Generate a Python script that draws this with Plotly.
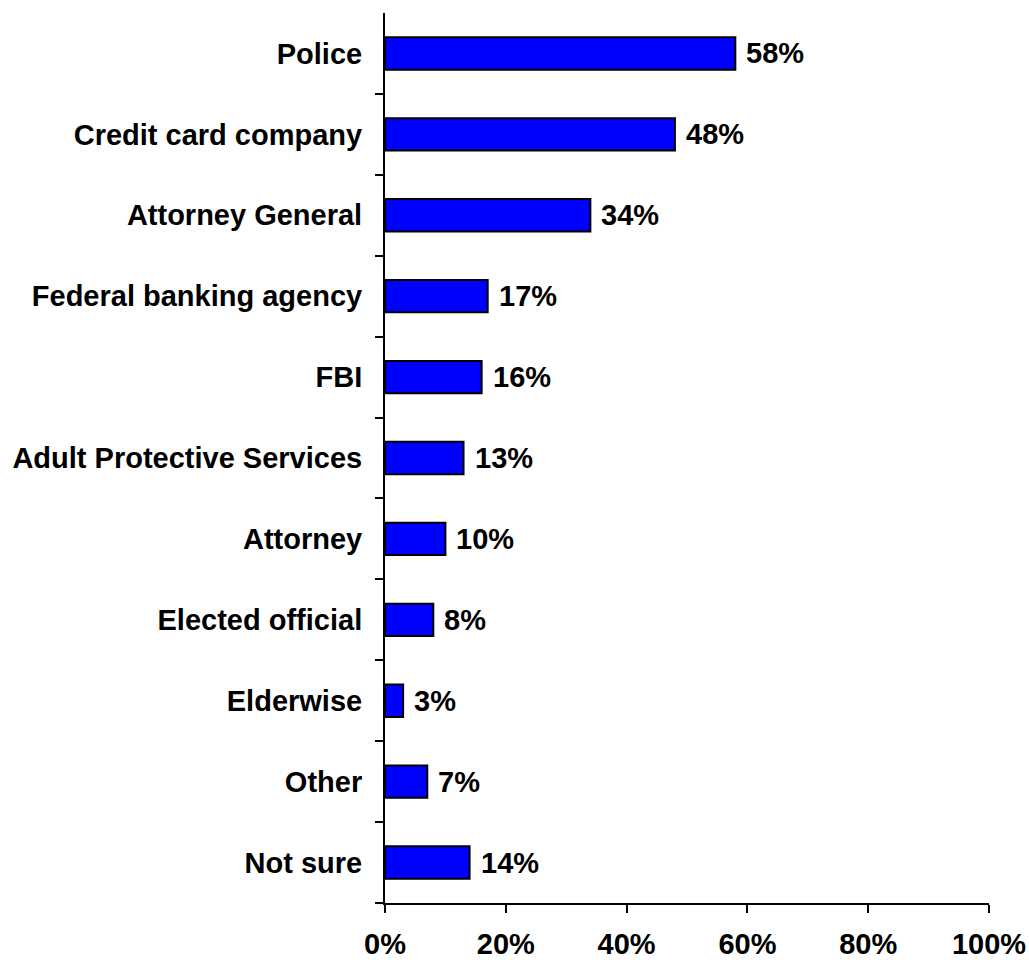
import plotly.graph_objects as go

categories = [
    "Police",
    "Credit card company",
    "Attorney General",
    "Federal banking agency",
    "FBI",
    "Adult Protective Services",
    "Attorney",
    "Elected official",
    "Elderwise",
    "Other",
    "Not sure",
]
values = [58, 48, 34, 17, 16, 13, 10, 8, 3, 7, 14]
x_ticks = [0, 20, 40, 60, 80, 100]
x_tick_labels = ["0%", "20%", "40%", "60%", "80%", "100%"]

FONT = dict(family="Liberation Sans, Arial, sans-serif", size=29, color="black")

fig = go.Figure(
    go.Bar(
        x=values,
        y=categories,
        orientation="h",
        width=0.4,
        marker=dict(color="#0000FF", line=dict(color="black", width=2)),
        hoverinfo="skip",
    )
)

# value labels just past the end of each bar
for cat, val in zip(categories, values):
    fig.add_annotation(
        x=val, y=cat, text=f"<b>{val}%</b>", showarrow=False,
        xanchor="left", yanchor="middle", xshift=9, font=FONT,
    )

fig.update_layout(
    width=1029, height=960,
    margin=dict(l=385, r=40, t=13, b=57),
    plot_bgcolor="white", paper_bgcolor="white",
    showlegend=False,
    font=FONT,
)

fig.update_xaxes(
    range=[0, 100], tickvals=x_ticks,
    ticktext=[f"<b>{t}</b>" for t in x_tick_labels],
    showline=True, linecolor="black", linewidth=2,
    ticks="outside", ticklen=8, tickwidth=2, tickcolor="black",
    showgrid=False, zeroline=False, tickfont=FONT,
    automargin=False, ticklabelstandoff=6,
)

fig.update_yaxes(
    type="category", categoryorder="array",
    categoryarray=categories[::-1],
    tickvals=categories, ticktext=[f"<b>{c}</b>" for c in categories],
    showline=True, linecolor="black", linewidth=2,
    ticks="outside", tickson="boundaries", ticklen=8, tickwidth=2, tickcolor="black",
    showgrid=False, zeroline=False, tickfont=FONT,
    range=[-0.5, len(categories) - 0.5],
    automargin=False, ticklabelstandoff=15,
)

fig.write_html("out.html")
